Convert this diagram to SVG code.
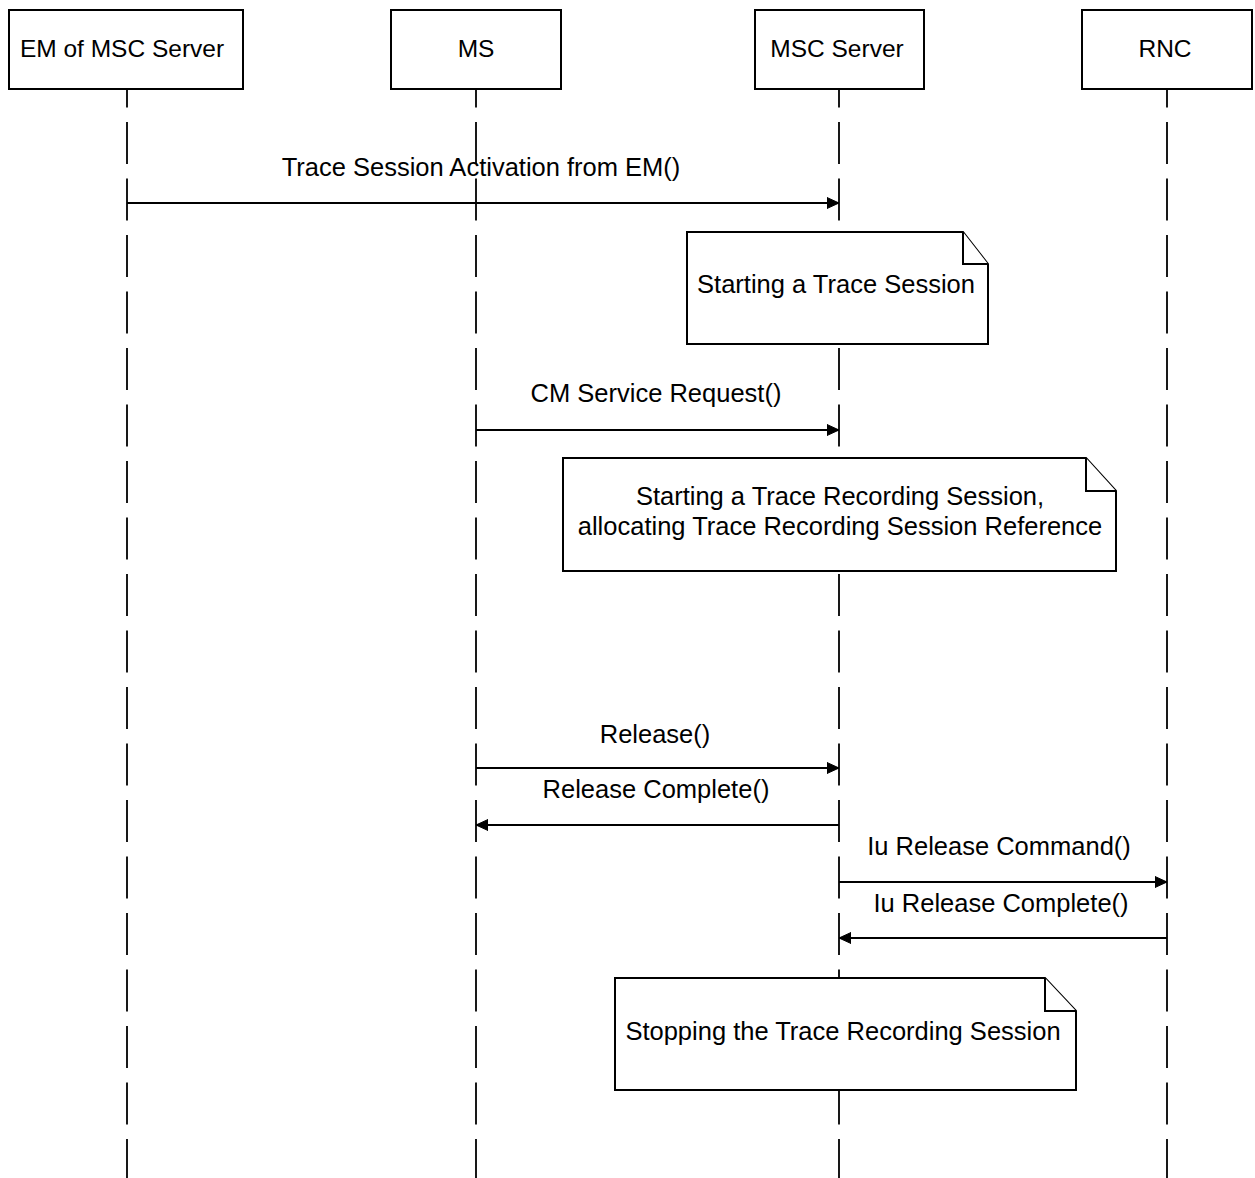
<svg xmlns="http://www.w3.org/2000/svg" width="1255" height="1178" viewBox="0 0 1255 1178">
<style>
.box{fill:#fff;stroke:#000;stroke-width:2}
.life{stroke:#000;stroke-width:1.8;stroke-dasharray:42 14.5;stroke-dashoffset:24.5;fill:none}
.msg{stroke:#000;stroke-width:1.8;fill:none}
.note{fill:#fff;stroke:#000;stroke-width:2;stroke-linejoin:miter}
text{font-family:"Liberation Sans",Arial,sans-serif;font-size:25.5px;fill:#000;text-anchor:middle}
.hd{font-size:24.5px}
</style>
<defs>
<marker id="ah" markerUnits="userSpaceOnUse" markerWidth="14" markerHeight="14" refX="12" refY="7" orient="auto">
<path d="M0,1.5 L12,7 L0,12.5 Z" fill="#000" stroke="#000" stroke-width="1" stroke-linejoin="round"/>
</marker>
</defs>
<g id="lifelines">
<line class="life" x1="127" y1="90" x2="127" y2="1178"/>
<line class="life" x1="476" y1="90" x2="476" y2="1178"/>
<line class="life" x1="839" y1="90" x2="839" y2="1178"/>
<line class="life" x1="1167" y1="90" x2="1167" y2="1178"/>
</g>
<g id="node-em"><rect class="box" x="9" y="10" width="234" height="79"/><text class="hd" x="122" y="57">EM of MSC Server</text></g>
<g id="node-ms"><rect class="box" x="391" y="10" width="170" height="79"/><text class="hd" x="476" y="57">MS</text></g>
<g id="node-msc"><rect class="box" x="755" y="10" width="169" height="79"/><text class="hd" x="837" y="57">MSC Server</text></g>
<g id="node-rnc"><rect class="box" x="1082" y="10" width="170" height="79"/><text class="hd" x="1165" y="57">RNC</text></g>
<g id="connectors">
<line class="msg" x1="127" y1="203" x2="839" y2="203" marker-end="url(#ah)"/>
<text x="481" y="176">Trace Session Activation from EM()</text>
<line class="msg" x1="476" y1="430" x2="839" y2="430" marker-end="url(#ah)"/>
<text x="656" y="402">CM Service Request()</text>
<line class="msg" x1="476" y1="768" x2="839" y2="768" marker-end="url(#ah)"/>
<text x="655" y="743">Release()</text>
<line class="msg" x1="839" y1="825" x2="476" y2="825" marker-end="url(#ah)"/>
<text x="656" y="798">Release Complete()</text>
<line class="msg" x1="839" y1="882" x2="1167" y2="882" marker-end="url(#ah)"/>
<text x="999" y="855">Iu Release Command()</text>
<line class="msg" x1="1167" y1="938" x2="839" y2="938" marker-end="url(#ah)"/>
<text x="1001" y="912">Iu Release Complete()</text>
</g>
<g id="note-1">
<path class="note" d="M687,232 H963 L988,264 V344 H687 Z"/>
<path class="note" d="M963,232 V264 H988" fill="none"/>
<text x="836" y="293">Starting a Trace Session</text>
</g>
<g id="note-2">
<path class="note" d="M563,458 H1086 L1116,491 V571 H563 Z"/>
<path class="note" d="M1086,458 V491 H1116" fill="none"/>
<text x="840" y="505">Starting a Trace Recording Session,</text>
<text x="840" y="535">allocating Trace Recording Session Reference</text>
</g>
<g id="note-3">
<path class="note" d="M615,978 H1045 L1076,1011 V1090 H615 Z"/>
<path class="note" d="M1045,978 V1011 H1076" fill="none"/>
<text x="843" y="1040">Stopping the Trace Recording Session</text>
</g>
</svg>
